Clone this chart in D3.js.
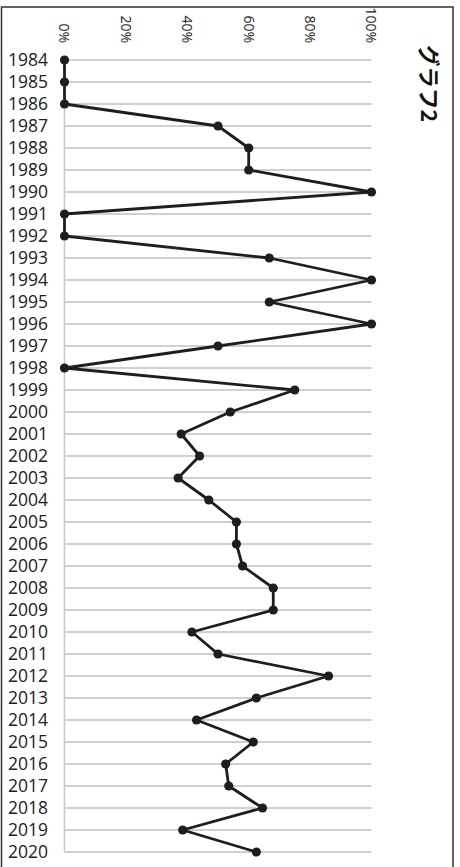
<!DOCTYPE html>
<html>
<head>
<meta charset="utf-8">
<script src="https://cdn.jsdelivr.net/npm/d3@7"></script>
<style>
  html, body { margin: 0; padding: 0; background: #fff; }
  svg { display: block; }
</style>
</head>
<body>
<script>
// Share per year (0..1), 1984–2020
const years = [1984, 1985, 1986, 1987, 1988, 1989, 1990, 1991, 1992, 1993,
  1994, 1995, 1996, 1997, 1998, 1999, 2000, 2001, 2002, 2003,
  2004, 2005, 2006, 2007, 2008, 2009, 2010, 2011, 2012, 2013,
  2014, 2015, 2016, 2017, 2018, 2019, 2020];
const values = [0, 0, 0, 0.50, 0.60, 0.60, 1.00, 0, 0, 0.667,
  1.00, 0.667, 1.00, 0.50, 0, 0.75, 0.54, 0.38, 0.44, 0.37,
  0.47, 0.56, 0.56, 0.58, 0.68, 0.68, 0.415, 0.50, 0.86, 0.625,
  0.43, 0.615, 0.525, 0.535, 0.645, 0.385, 0.625];
const valueTicks = [0, 0.2, 0.4, 0.6, 0.8, 1.0];
const titleText = "グラフ2";

const W = 460, H = 867;
const svg = d3.select("body").append("svg").attr("width", W).attr("height", H);

// Chart frame
svg.append("rect")
  .attr("x", 1.5).attr("y", 7).attr("width", 451.5).attr("height", 880)
  .attr("fill", "none").attr("stroke", "#333").attr("stroke-width", 1.5);

// Value runs left→right, years run top→bottom
const x = d3.scaleLinear().domain([0, 1]).range([64.5, 371.5]);
const y = d3.scalePoint().domain(years).range([60, 852]);

// Horizontal gridlines, one per year
svg.append("g").selectAll("line").data(years).join("line")
  .attr("x1", x(0)).attr("x2", x(1))
  .attr("y1", d => y(d)).attr("y2", d => y(d))
  .attr("stroke", "#c0c0c0").attr("stroke-width", 1.5);

// Category axis line at 0%
svg.append("line")
  .attr("x1", x(0)).attr("x2", x(0))
  .attr("y1", y(years[0])).attr("y2", y(years[years.length - 1]))
  .attr("stroke", "#c8c8c8").attr("stroke-width", 1.5);

// Year labels
svg.append("g").selectAll("text").data(years).join("text")
  .attr("x", 48).attr("y", d => y(d))
  .attr("dy", "0.36em")
  .attr("text-anchor", "end")
  .attr("font-family", "'Open Sans', sans-serif")
  .attr("font-size", 17.5)
  .attr("fill", "#222")
  .text(d => d);

// Percent labels, turned to read top→bottom
const fmt = d3.format(".0%");
svg.append("g").selectAll("text").data(valueTicks).join("text")
  .attr("transform", d => `translate(${x(d)},43) rotate(90)`)
  .attr("dy", "0.36em")
  .attr("text-anchor", "end")
  .attr("font-family", "'Open Sans', sans-serif")
  .attr("font-size", 14)
  .attr("fill", "#222")
  .text(d => fmt(d));

// Title, turned to read top→bottom on the right
svg.append("text")
  .attr("transform", `translate(429,45) rotate(90)`)
  .attr("dy", "0.36em")
  .attr("text-anchor", "start")
  .attr("font-family", "'Noto Sans CJK JP', sans-serif")
  .attr("font-size", 21.5)
  .attr("font-weight", 700)
  .attr("fill", "#111")
  .text(titleText);

// Series line
const pts = years.map((yr, i) => [x(values[i]), y(yr)]);
svg.append("path")
  .attr("d", d3.line()(pts))
  .attr("fill", "none")
  .attr("stroke", "#1e1e1e")
  .attr("stroke-width", 2.8)
  .attr("stroke-linejoin", "round");

// Markers
svg.append("g").selectAll("circle").data(pts).join("circle")
  .attr("cx", d => d[0]).attr("cy", d => d[1])
  .attr("r", 4.6)
  .attr("fill", "#1e1e1e");
</script>
</body>
</html>
